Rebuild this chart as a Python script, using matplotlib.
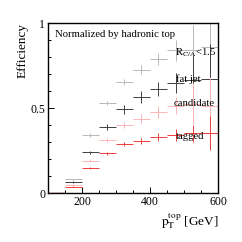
import matplotlib
matplotlib.use("Agg")
import matplotlib.pyplot as plt
from matplotlib.ticker import MultipleLocator

# bins de pT (centros, ancho 50 GeV)
pt_centers = [125, 175, 225, 275, 325, 375, 425, 475, 525, 575]

# eficiencias
eff_fatjet    = [0.0, 0.082, 0.343, 0.533, 0.655, 0.727, 0.792, 0.840, 0.840, 0.860]
err_fatjet    = [0.0, 0.005, 0.010, 0.012, 0.018, 0.025, 0.035, 0.060, 0.150, 0.200]
eff_candidate = [0.0, 0.068, 0.241, 0.390, 0.494, 0.565, 0.615, 0.650, 0.665, 0.675]
err_candidate = [0.0, 0.005, 0.010, 0.015, 0.025, 0.035, 0.040, 0.060, 0.150, 0.200]
eff_tagged_a  = [0.0, 0.049, 0.192, 0.313, 0.400, 0.440, 0.480, 0.515, 0.528, 0.512]
err_tagged_a  = [0.0, 0.005, 0.008, 0.012, 0.018, 0.025, 0.035, 0.050, 0.120, 0.170]
eff_tagged_b  = [0.0, 0.039, 0.151, 0.235, 0.292, 0.310, 0.331, 0.343, 0.352, 0.357]
err_tagged_b  = [0.0, 0.004, 0.006, 0.010, 0.012, 0.018, 0.025, 0.035, 0.050, 0.100]

series = [
    (eff_fatjet, err_fatjet, "#b8b8b8"),
    (eff_candidate, err_candidate, "#404040"),
    (eff_tagged_a, err_tagged_a, "#ffb4b4"),
    (eff_tagged_b, err_tagged_b, "#ee3c3c"),
]

plt.rcParams["font.family"] = ["Liberation Serif", "DejaVu Serif"]
plt.rcParams["mathtext.fontset"] = "stix"

fig = plt.figure(figsize=(2.42, 2.42), dpi=100)
ax = fig.add_axes([0.198, 0.201, 0.703, 0.703])

for eff, err, col in series:
    ax.errorbar(pt_centers, eff, xerr=25, yerr=err, fmt="none",
                ecolor=col, elinewidth=0.7, capsize=0)
# primer bin a cero (rojo oscuro)
ax.errorbar(pt_centers[:1], eff_tagged_b[:1], xerr=25, fmt="none",
            ecolor="#b01010", elinewidth=1.0)

ax.set_xlim(100, 600)
ax.set_ylim(0, 1)
ax.xaxis.set_minor_locator(MultipleLocator(50))
ax.yaxis.set_minor_locator(MultipleLocator(0.1))
ax.set_yticks([0, 0.5, 1])
ax.set_yticklabels(["0", "0.5", "1"])
ax.set_xticks([200, 400, 600])
ax.set_xticklabels(["200", "400", "600"])
ax.tick_params(which="both", direction="in", top=False, right=False,
               labelsize=8.5, pad=2)
ax.tick_params(which="major", length=4, width=0.7)
ax.tick_params(which="minor", length=2, width=0.7)
for s in ax.spines.values():
    s.set_linewidth(1.0)

ax.set_ylabel("Efficiency", fontsize=9.5, loc="top", labelpad=1)
ax.set_xlabel(r"$\mathrm{p_T^{top}}$ [GeV]", fontsize=9.5, loc="right", labelpad=2)

ax.text(0.04, 0.96, "Normalized by hadronic top", transform=ax.transAxes,
        fontsize=7.7, va="top", ha="left")
ax.text(0.745, 0.865, r"$\mathrm{R_{C/A}}$<1.5", transform=ax.transAxes,
        fontsize=7.7, va="top", ha="left")
ax.text(0.75, 0.70, "fat jet", transform=ax.transAxes,
        fontsize=7.7, va="top", ha="left")
ax.text(0.74, 0.555, "candidate", transform=ax.transAxes,
        fontsize=7.7, va="top", ha="left")
ax.text(0.75, 0.36, "tagged", transform=ax.transAxes,
        fontsize=7.7, va="top", ha="left")

fig.savefig("out.png", dpi=100)
